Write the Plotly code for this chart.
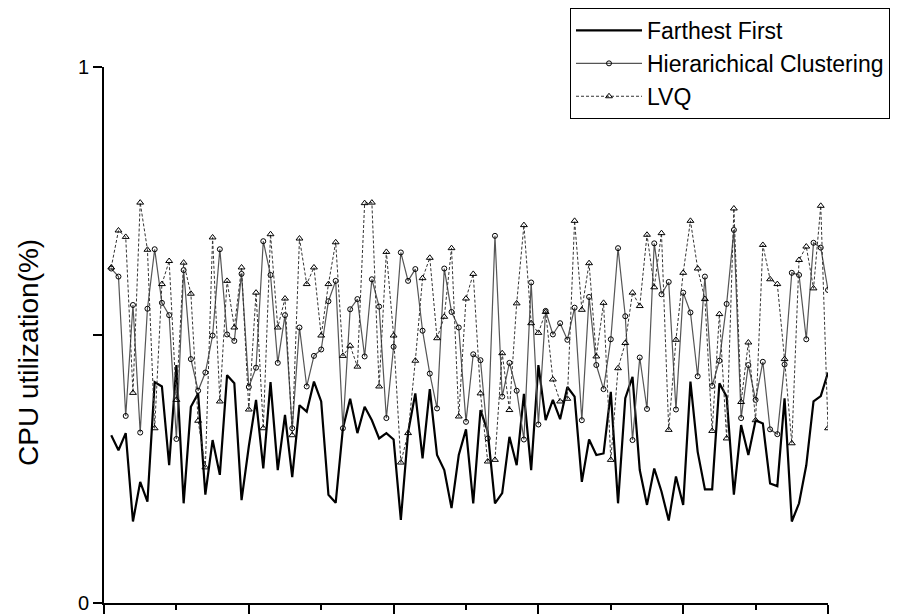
import plotly.graph_objects as go

x_index = list(range(1, 101))

farthest_first = [
    0.313, 0.285, 0.317, 0.152, 0.226, 0.189, 0.412, 0.404, 0.257, 0.444,
    0.186, 0.366, 0.391, 0.202, 0.304, 0.239, 0.425, 0.410, 0.192, 0.292,
    0.379, 0.251, 0.412, 0.248, 0.351, 0.235, 0.369, 0.357, 0.413, 0.376,
    0.202, 0.187, 0.326, 0.381, 0.317, 0.366, 0.341, 0.307, 0.317, 0.305,
    0.155, 0.318, 0.391, 0.270, 0.399, 0.276, 0.248, 0.177, 0.276, 0.324,
    0.186, 0.360, 0.320, 0.186, 0.205, 0.310, 0.257, 0.390, 0.248, 0.444,
    0.341, 0.379, 0.343, 0.403, 0.385, 0.226, 0.305, 0.276, 0.279, 0.394,
    0.186, 0.382, 0.422, 0.248, 0.183, 0.251, 0.208, 0.154, 0.236, 0.183,
    0.413, 0.282, 0.212, 0.212, 0.410, 0.385, 0.202, 0.332, 0.276, 0.341,
    0.335, 0.223, 0.218, 0.382, 0.152, 0.186, 0.257, 0.376, 0.386, 0.430,
]

hierarchical = [
    0.624, 0.609, 0.349, 0.556, 0.318, 0.549, 0.660, 0.560, 0.537, 0.306,
    0.621, 0.455, 0.396, 0.430, 0.499, 0.660, 0.501, 0.489, 0.614, 0.403,
    0.439, 0.675, 0.612, 0.448, 0.537, 0.326, 0.514, 0.404, 0.461, 0.473,
    0.563, 0.601, 0.326, 0.548, 0.567, 0.460, 0.604, 0.553, 0.345, 0.478,
    0.654, 0.601, 0.623, 0.508, 0.428, 0.363, 0.624, 0.543, 0.514, 0.338,
    0.464, 0.453, 0.307, 0.685, 0.385, 0.448, 0.396, 0.305, 0.598, 0.333,
    0.545, 0.501, 0.522, 0.491, 0.551, 0.341, 0.571, 0.444, 0.399, 0.492,
    0.662, 0.535, 0.304, 0.458, 0.362, 0.671, 0.576, 0.599, 0.361, 0.579,
    0.542, 0.423, 0.609, 0.405, 0.452, 0.558, 0.696, 0.345, 0.444, 0.379,
    0.450, 0.324, 0.315, 0.445, 0.616, 0.612, 0.492, 0.672, 0.663, 0.584,
]

lvq = [
    0.626, 0.695, 0.683, 0.392, 0.747, 0.659, 0.326, 0.595, 0.638, 0.379,
    0.635, 0.577, 0.340, 0.253, 0.682, 0.376, 0.601, 0.514, 0.626, 0.361,
    0.579, 0.326, 0.688, 0.514, 0.568, 0.313, 0.680, 0.595, 0.626, 0.499,
    0.595, 0.673, 0.461, 0.480, 0.441, 0.746, 0.747, 0.404, 0.655, 0.499,
    0.262, 0.317, 0.452, 0.606, 0.644, 0.494, 0.534, 0.662, 0.348, 0.568,
    0.614, 0.391, 0.264, 0.267, 0.466, 0.360, 0.559, 0.705, 0.522, 0.504,
    0.543, 0.417, 0.376, 0.381, 0.713, 0.547, 0.634, 0.460, 0.560, 0.267,
    0.438, 0.485, 0.579, 0.554, 0.687, 0.589, 0.690, 0.323, 0.491, 0.616,
    0.713, 0.624, 0.567, 0.321, 0.539, 0.307, 0.736, 0.375, 0.486, 0.341,
    0.668, 0.604, 0.595, 0.455, 0.298, 0.640, 0.665, 0.587, 0.741, 0.326,
]

y_tick_vals = [0, 0.5, 1]
y_tick_text = ["0", "", "1"]
x_major_ticks = [0, 20, 40, 60, 80, 100]

FONT = "Arial, Liberation Sans, sans-serif"

fig = go.Figure()
fig.add_trace(go.Scatter(
    x=x_index, y=farthest_first, name="Farthest First", mode="lines",
    line=dict(color="black", width=2.2),
))
fig.add_trace(go.Scatter(
    x=x_index, y=hierarchical, name="Hierarichical Clustering", mode="lines+markers",
    line=dict(color="#555555", width=1.2),
    marker=dict(symbol="circle-open", size=5, color="black", line=dict(width=1)),
))
fig.add_trace(go.Scatter(
    x=x_index, y=lvq, name="LVQ", mode="lines+markers",
    line=dict(color="#333333", width=1, dash="3px,2px"),
    marker=dict(symbol="triangle-up-open", size=6, color="black", line=dict(width=1)),
))

fig.update_layout(
    width=923, height=614,
    margin=dict(l=104, r=95, t=67, b=11, autoexpand=False),
    paper_bgcolor="white", plot_bgcolor="white",
    font=dict(family=FONT, color="black"),
    showlegend=True,
    legend=dict(
        x=(570 - 104) / 724, y=(603 - 8) / 536, xanchor="left", yanchor="top",
        bordercolor="black", borderwidth=1, bgcolor="white",
        font=dict(size=23, family=FONT, color="black"),
        itemwidth=66, tracegroupgap=0,
    ),
    xaxis=dict(
        range=[0, 100], showgrid=False, zeroline=False, automargin=False,
        showline=True, linecolor="black", linewidth=2,
        tickvals=x_major_ticks, ticks="outside", ticklen=10, tickwidth=2,
        tickcolor="black", showticklabels=False,
        minor=dict(dtick=10, tick0=0, ticks="outside", ticklen=5, tickwidth=2, tickcolor="black"),
    ),
    yaxis=dict(
        range=[0, 1], showgrid=False, zeroline=False, automargin=False,
        showline=True, linecolor="black", linewidth=2,
        tickvals=y_tick_vals, ticktext=y_tick_text,
        ticks="outside", ticklen=9, tickwidth=2, tickcolor="black",
        tickfont=dict(size=20, family=FONT),
    ),
    annotations=[dict(
        text="CPU utilization(%)", xref="paper", yref="paper",
        x=(29 - 104) / 724, y=(603 - 353) / 536, xanchor="center", yanchor="middle",
        textangle=-90, showarrow=False, font=dict(size=28, family=FONT),
    )],
)

fig.write_html("out.html")
